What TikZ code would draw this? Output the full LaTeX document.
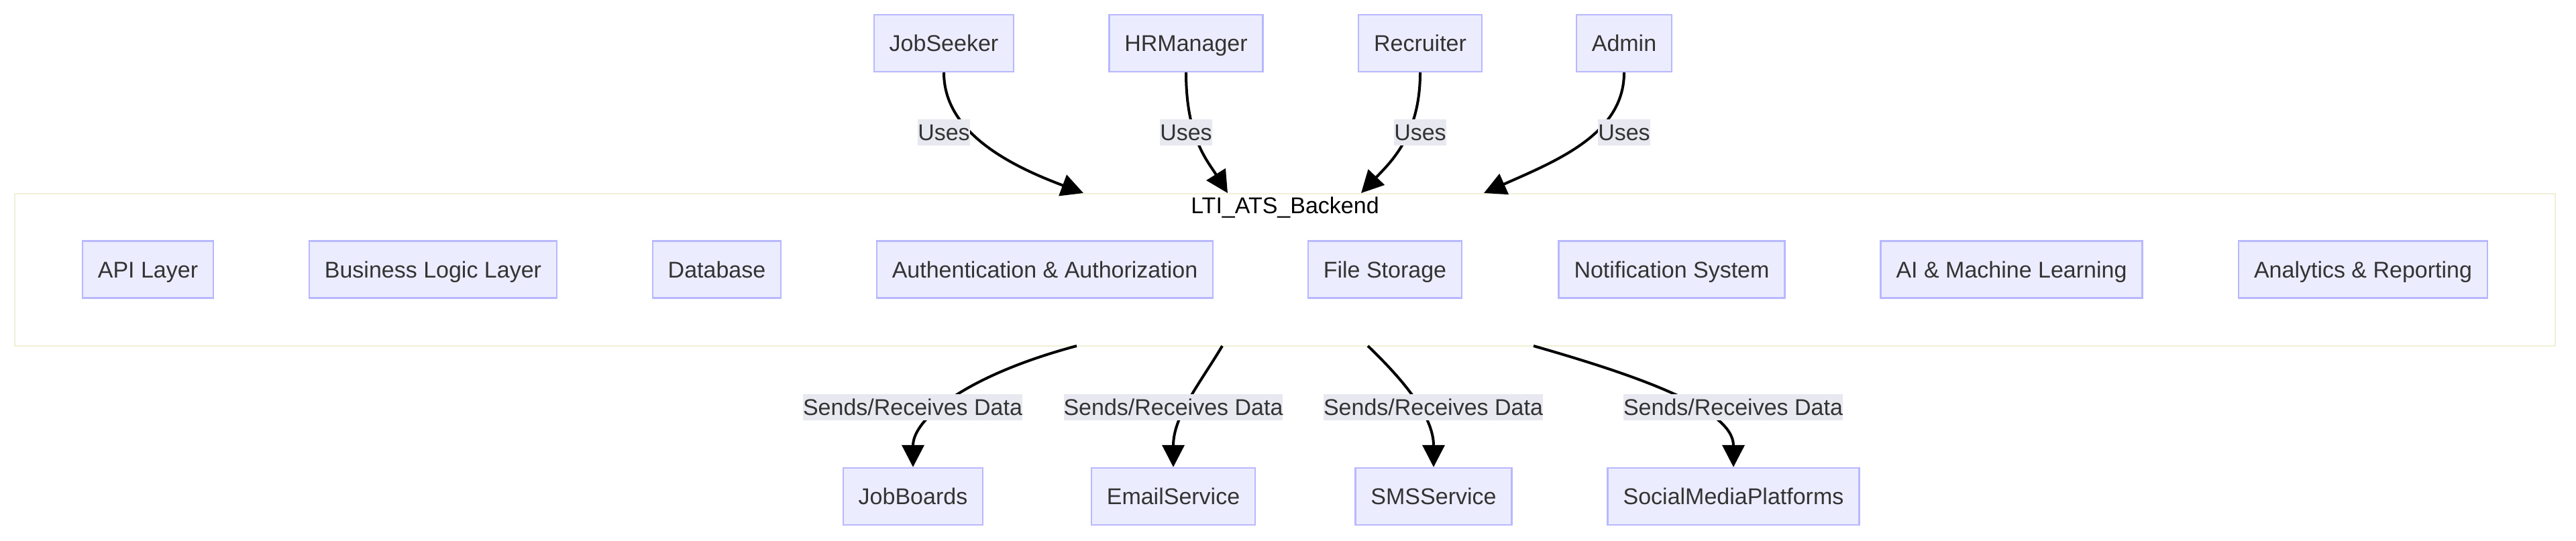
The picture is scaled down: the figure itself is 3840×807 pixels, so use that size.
\documentclass[tikz,border=0pt]{standalone}
\usepackage{fontspec}
\setmainfont{Liberation Sans}
\usetikzlibrary{arrows.meta}
\definecolor{nodefill}{HTML}{ECECFF}
\definecolor{nodeborder}{HTML}{B8B8FF}
\definecolor{labelbg}{HTML}{E8E8F0}
\definecolor{clusterborder}{HTML}{F0F0D8}
\definecolor{textc}{HTML}{333333}
\newcommand{\diafont}{\fontsize{17}{20}\selectfont}
\tikzset{
  box/.style={draw=nodeborder, fill=nodefill, line width=1.2pt, minimum height=42.5pt,
    inner xsep=11.5pt, inner ysep=0pt, text height=12.2pt, text depth=0pt,
    text=textc, font=\diafont},
  cluster/.style={draw=clusterborder, fill=white, line width=1.3pt, inner sep=0pt},
  elabel/.style={fill=labelbg, inner xsep=0pt, inner ysep=0pt, minimum height=19.5pt,
    text height=12.2pt, text depth=0pt, text=textc, font=\diafont},
  edge/.style={draw=black, line width=2pt, -{Triangle[length=16.5pt,width=16.5pt]}},
}
\begin{document}
\begin{tikzpicture}[x=0.5pt,y=-0.5pt]
\useasboundingbox (0,0) rectangle (3840,807);
% container
\node[cluster, minimum width=1893.5pt, minimum height=113.5pt] (backend) at (1915.5,402.5) {};
\node[text=black, font=\diafont, inner sep=0pt, text height=12.2pt, text depth=0pt] (backendlabel) at (1915.5,306.5) {LTI\_ATS\_Backend};
% top actors
\node[box] (js) at (1407,64.5) {JobSeeker};
\node[box] (hr) at (1768,64.5) {HRManager};
\node[box] (rc) at (2117,64.5) {Recruiter};
\node[box] (ad) at (2421,64.5) {Admin};
% inner components
\node[box] (api) at (220.5,402) {API Layer};
\node[box] (bll) at (645.5,402) {Business Logic Layer};
\node[box] (db) at (1068.5,402) {Database};
\node[box] (auth) at (1557.5,402) {Authentication \& Authorization};
\node[box] (fs) at (2064.5,402) {File Storage};
\node[box] (ns) at (2492,402) {Notification System};
\node[box] (ai) at (2998.5,402) {AI \& Machine Learning};
\node[box] (ar) at (3522.5,402) {Analytics \& Reporting};
% bottom services
\node[box] (jb) at (1361,740.5) {JobBoards};
\node[box] (es) at (1749,740.5) {EmailService};
\node[box] (sms) at (2137,740.5) {SMSService};
\node[box] (smp) at (2584,740.5) {SocialMediaPlatforms};
% edge end points on the container border
\coordinate (t1) at (1615,288);
\coordinate (t2) at (1830,288);
\coordinate (t3) at (2029,288);
\coordinate (t4) at (2212,288);
\coordinate (b1) at (1605,516);
\coordinate (b2) at (1822,516);
\coordinate (b3) at (2039,516);
\coordinate (b4) at (2286,516);
% top edges
\draw[edge] (js.south) .. controls (1407,195) and (1500,245) .. (t1);
\draw[edge] (hr.south) .. controls (1768,205) and (1800,240) .. (t2);
\draw[edge] (rc.south) .. controls (2117,200) and (2075,240) .. (t3);
\draw[edge] (ad.south) .. controls (2421,200) and (2320,240) .. (t4);
% bottom edges
\draw[edge] (b1) .. controls (1440,560) and (1361,625) .. (jb.north);
\draw[edge] (b2) .. controls (1790,570) and (1749,620) .. (es.north);
\draw[edge] (b3) .. controls (2090,565) and (2137,620) .. (sms.north);
\draw[edge] (b4) .. controls (2440,560) and (2584,610) .. (smp.north);
% labels
\node[elabel] (u1) at (1407,197.5) {Uses};
\node[elabel] (u2) at (1768,197.5) {Uses};
\node[elabel] (u3) at (2117,197.5) {Uses};
\node[elabel] (u4) at (2421,197.5) {Uses};
\node[elabel] (s1) at (1360.5,607) {Sends/Receives Data};
\node[elabel] (s2) at (1749,607) {Sends/Receives Data};
\node[elabel] (s3) at (2136.5,607) {Sends/Receives Data};
\node[elabel] (s4) at (2583.5,607) {Sends/Receives Data};
\end{tikzpicture}
\end{document}
